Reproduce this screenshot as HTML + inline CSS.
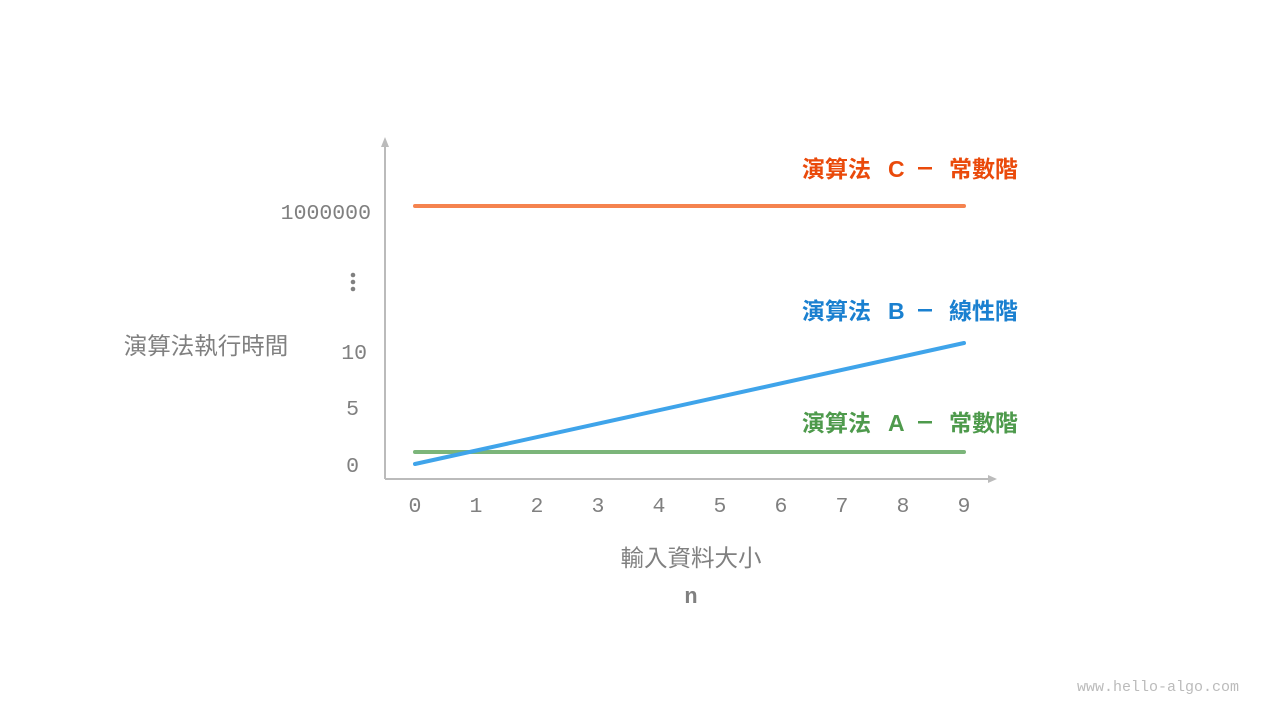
<!DOCTYPE html>
<html><head><meta charset="utf-8"><style>
html,body{margin:0;padding:0;background:#fff;}
svg{display:block}
.m{font-family:"Liberation Mono","DejaVu Sans Mono",monospace;fill:#808080;font-size:21.5px}
.c{font-family:"Liberation Sans","Noto Sans CJK TC",sans-serif}
.lg{font-family:"Liberation Sans","Noto Sans CJK TC",sans-serif;font-size:23px;font-weight:bold}
</style></head><body>
<svg width="1280" height="720" viewBox="0 0 1280 720">
<line x1="385" y1="479" x2="385" y2="145" stroke="#bbb" stroke-width="2"/>
<polygon points="381,147 389,147 385,137" fill="#bbb"/>
<line x1="385" y1="479" x2="990" y2="479" stroke="#bbb" stroke-width="2"/>
<polygon points="988,475 988,483 997,479" fill="#bbb"/>
<text class="m" x="371" y="219" text-anchor="end">1000000</text>
<text class="m" x="367" y="359" text-anchor="end">10</text>
<text class="m" x="359" y="415" text-anchor="end">5</text>
<text class="m" x="359" y="472" text-anchor="end">0</text>
<circle cx="353" cy="275" r="2.3" fill="#808080"/><circle cx="353" cy="282" r="2.3" fill="#808080"/><circle cx="353" cy="289" r="2.3" fill="#808080"/>
<g class="m" text-anchor="middle">
<text x="415" y="512">0</text><text x="476" y="512">1</text><text x="537" y="512">2</text><text x="598" y="512">3</text><text x="659" y="512">4</text><text x="720" y="512">5</text><text x="781" y="512">6</text><text x="842" y="512">7</text><text x="903" y="512">8</text><text x="964" y="512">9</text>
</g>
<line x1="415" y1="206" x2="964" y2="206" stroke="#f5834f" stroke-width="4" stroke-linecap="round"/>
<line x1="415" y1="452" x2="964" y2="452" stroke="#7bb57a" stroke-width="4" stroke-linecap="round"/>
<line x1="415" y1="464" x2="964" y2="343" stroke="#3fa4ea" stroke-width="4" stroke-linecap="round"/>
<g class="lg" fill="#ea4a0b">
<text x="802" y="177">演算法</text><text x="888" y="177">C</text><rect x="918" y="167" width="14" height="2.5"/><text x="949" y="177">常數階</text></g>
<g class="lg" fill="#1a80d0">
<text x="802" y="319">演算法</text><text x="888" y="319">B</text><rect x="918" y="309" width="14" height="2.5"/><text x="949" y="319">線性階</text></g>
<g class="lg" fill="#4e9a4c">
<text x="802" y="431">演算法</text><text x="888" y="431">A</text><rect x="918" y="421" width="14" height="2.5"/><text x="949" y="431">常數階</text></g>
<text class="c" x="206" y="354" text-anchor="middle" font-size="23.5" fill="#808080">演算法執行時間</text>
<text class="c" x="691" y="566" text-anchor="middle" font-size="23.5" fill="#808080">輸入資料大小</text>
<text x="691" y="603" text-anchor="middle" font-family="Liberation Mono,monospace" font-size="22" font-weight="bold" fill="#808080">n</text>
<text x="1239" y="691" text-anchor="end" font-family="Liberation Mono,monospace" font-size="15" fill="#bbb">www.hello-algo.com</text>
</svg>
</body></html>
